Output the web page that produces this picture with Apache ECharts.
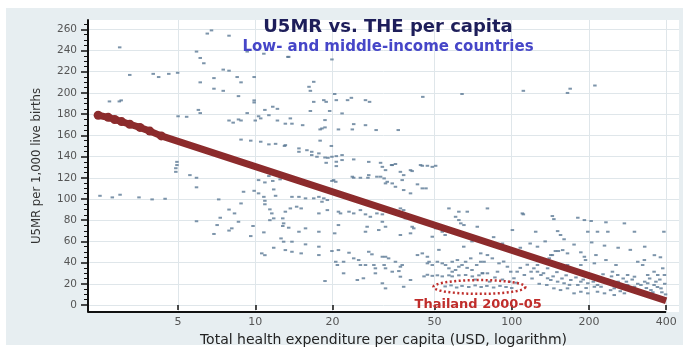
<!DOCTYPE html>
<html>
<head>
<meta charset="utf-8">
<script src="https://cdn.jsdelivr.net/npm/echarts@6/dist/echarts.min.js"></script>
<style>
  html, body { margin: 0; padding: 0; background: #fff; }
  #panel { position: absolute; left: 6px; top: 8px; width: 677px; height: 337px; background: #e7eef1; }
  #chart { position: absolute; left: 0; top: 0; width: 683px; height: 349px; }
</style>
</head>
<body>
<div id="panel"></div>
<div id="chart"></div>
<script>
// tick labels
const xTicks = [5, 10, 20, 50, 100, 200, 400]
const yTicks = [0, 20, 40, 60, 80, 100, 120, 140, 160, 180, 200, 220, 240, 260]

// countries: [THE per capita (USD), U5MR]
const countryPoints = [
  [2.96, 243], [3.24, 217], [4.0, 218], [4.2, 215], [4.6, 218], [4.98, 219], [2.7, 192], [2.95, 192], [3.0, 193],
  [5.9, 239], [6.1, 233], [6.3, 228], [6.5, 256], [6.75, 259], [7.9, 254], [9.3, 239], [10.8, 237], [13.4, 234],
  [7.5, 222], [7.9, 221], [6.9, 214], [6.1, 210], [6.9, 204], [7.5, 202], [8.5, 215], [8.8, 210], [9.9, 215],
  [8.6, 197], [9.9, 193], [9.9, 191], [6.0, 184], [6.1, 181], [5.0, 178], [5.4, 177.5], [7.9, 174], [8.2, 172],
  [8.6, 175], [8.8, 174], [9.3, 181], [10.0, 174], [10.3, 178], [10.5, 176], [10.9, 184], [11.3, 179], [11.7, 187],
  [12.2, 185], [12.2, 174], [8.8, 156], [9.6, 155], [10.5, 154], [11.3, 151.5], [12, 152], [13, 150],
  [4.95, 135], [4.95, 132], [4.9, 129],
  [2.48, 103], [2.77, 101.5], [2.97, 104], [3.52, 101.5], [3.96, 99.6], [4.45, 100.2],
  [4.9, 125.6], [5.56, 122.5], [5.9, 120], [5.9, 111], [5.9, 79], [7.2, 99.6], [7.9, 90], [8.3, 86.4], [7.3, 82.3],
  [7.1, 75.4], [6.9, 67], [7.9, 70.2], [8.1, 72.3], [8.6, 78.5], [8.8, 95.8], [9.0, 106.8], [9.6, 65], [9.8, 74.5],
  [9.9, 107.7], [10.3, 105.3], [10.8, 102], [10.9, 98.3], [10.9, 95], [11.4, 90.2], [11.6, 86.4], [11.8, 81.7],
  [11.4, 80], [12.8, 81.7], [12.9, 77], [12.8, 74.5], [10.8, 68.5], [10.6, 48.7], [10.9, 47], [11.8, 54],
  [12.6, 62.8], [12.9, 59.7], [11.8, 109], [12, 103], [12.5, 118.5], [11.7, 117], [11.3, 121.6], [10.9, 115.6], [10.3, 117.8],
  [13.5, 234], [19.9, 231.6], [16.9, 210.5], [16.2, 205.8], [16.4, 202], [20.4, 199], [16.9, 191.6], [18.5, 193.2],
  [18.9, 191.6], [20.7, 193.2], [22.9, 193.2], [23.7, 195.4], [26.9, 193.2], [27.9, 191.6], [16.4, 183], [19.5, 183],
  [21.8, 180.7], [45, 196.3], [64, 199], [13.7, 176], [13.1, 171], [13.9, 171], [15.3, 169.6], [18.7, 174.4],
  [18.2, 166.5], [18.7, 167.5], [17.9, 165.6], [21.1, 165.6], [24.2, 170.6], [23.9, 165.6], [26.9, 169.6], [29.6, 165],
  [36.1, 165], [17.9, 155], [19.8, 150], [13.1, 150.8], [14.8, 147.7], [14.8, 144.5], [15.9, 146], [16.6, 144.5],
  [16.6, 141.4], [17.4, 139.8], [17.7, 143], [18.7, 139.1], [19.2, 138.8], [18.9, 134.1], [19.9, 139.8], [20.7, 140.4],
  [20.7, 135.1], [20.7, 131], [21.8, 141.4], [21.8, 136.7], [24.2, 137.3], [27.7, 135], [30.8, 134.1], [31.3, 130.3],
  [34.2, 132], [35.2, 133], [44.8, 131.3], [46.9, 131.3], [49, 130.3], [50.5, 131.3],
  [111, 202], [165, 200], [169, 204], [211, 207],
  [20.2, 117.8], [20.6, 116.2], [19.9, 117], [24.2, 120], [25.7, 120], [27.5, 120], [30.8, 121], [32.7, 116.2],
  [32.2, 114.7], [32.2, 127.2], [37.9, 122.5], [37.4, 117.8], [40.9, 126.3], [42.9, 113.8], [44.8, 110],
  [13.9, 102], [14.8, 102], [17.7, 102], [18.5, 100.6], [19.1, 99], [18.2, 97.4], [15.7, 100.6], [16.9, 100.6],
  [14.5, 92.7], [13.7, 91.1], [13.1, 88], [15.1, 91.1], [17.7, 86.4], [19.1, 89.5], [21.1, 88], [21.5, 86.4],
  [23.2, 88], [24.2, 86.4], [25.7, 89.5], [26.9, 85.5], [28.1, 83.2], [29.8, 86.4], [31.3, 85.5], [32.2, 91.1],
  [36.8, 91.1], [37.9, 89.5], [38.5, 81.7],
  [13.5, 72.9], [14.8, 69.1], [15.7, 72.3], [17.7, 69.1], [20.4, 67.6], [21.1, 75.4], [26.9, 69.1], [27.3, 73.8],
  [31.3, 78.5], [30.3, 70.7], [32.2, 73.8], [36.8, 66], [40.3, 67.6], [41.5, 72.3], [40.9, 73.8],
  [13.9, 59.7], [15.7, 57.2], [13.1, 51.8], [13.9, 50.2], [15.1, 48.7], [17.7, 55], [17.7, 47.1], [19.9, 50.9],
  [21.1, 51.8], [20.6, 40.8], [20.9, 37.7], [22.1, 40.8], [22.1, 29.9], [23.2, 49.3], [24.2, 44], [25.3, 42.4],
  [25.7, 37.7], [26.9, 37.7], [27.7, 50.2], [28.5, 47.8], [29, 37.7], [29.4, 34.6], [29.4, 29.9], [25, 23.6],
  [26.4, 25.2], [18.7, 22.6],
  [31.3, 45.5], [32.2, 45.5], [33.1, 44], [35.2, 40.8], [31.8, 37.7], [32.2, 34.6], [34.2, 31.4], [36.3, 32],
  [36.8, 36.1], [37.4, 37.7], [31.3, 20.5], [32.2, 15.7], [37.9, 17.2], [40.3, 23.6], [36.8, 26.7],
  [42.9, 47.1], [44.8, 48.7], [46.9, 45.5], [47.6, 40.8], [49, 37.7], [46.9, 39.3],
  [51.3, 40.8], [53.6, 39.3], [55.2, 37.7], [56.9, 34.6], [58.6, 31.4], [60.4, 33], [62.2, 36.1], [64, 37.7],
  [58.6, 40.8], [61.4, 42.4],
  [45.5, 27], [46.9, 28.5], [49, 27.5], [51.3, 28], [53.6, 27], [56.9, 28], [58.6, 27], [62.2, 28], [66.1, 28.3],
  [70.2, 27], [74.5, 28], [76.9, 30],
  [66.1, 40.8], [69.2, 44], [73, 37.7], [75.7, 40.8], [60.4, 83.2], [62.2, 80.1], [63.3, 77], [65.1, 75.4],
  [67.1, 88], [73.4, 73.8], [50.5, 72.3], [53.6, 69.1], [49, 64.4], [56.9, 91.1], [46.3, 110],
  [34, 132], [36.8, 125.6], [40.3, 127.2], [44.1, 132], [23.9, 121], [27.7, 122.5], [29.8, 121], [31.8, 119.4],
  [34.2, 114.7], [35.2, 111.5], [37.9, 108.4], [40.3, 105.3], [62.2, 88], [80.4, 91.1], [110, 86.4], [144, 83.9],
  [111, 85.5], [146, 81], [181, 82.3], [192, 80.1], [204, 79.2], [233, 78], [275, 77],
  [100.6, 70.7], [124, 69.1], [151, 69.7], [155, 66], [198, 69.1], [216, 69.1], [237, 69.1], [301, 69.1], [392, 69.1],
  [108, 54], [126, 55], [148, 50.9], [152, 50.9], [165, 48.7], [186, 49.7], [192, 45.5], [144, 47.1], [140, 44],
  [75.7, 48.7], [80.4, 47.1], [78, 40.8], [76.9, 29.9], [80.4, 29.9], [88, 31.4], [89.2, 39.3], [96.2, 36.1],
  [99.1, 31.4], [105, 31.4], [102, 25.2], [112, 28.3], [119, 31.4], [122, 34.6], [126, 31.4],
  [130, 28.3], [138, 25.2], [142, 23.6], [151, 22], [160, 20.5], [170, 23.6], [181, 18.9], [186, 22], [198, 20.5],
  [210, 17.2], [216, 18.9], [223, 17.2], [237, 20.5], [251, 15.7], [267, 18.9], [283, 18.9], [301, 17.2], [319, 18.9],
  [339, 20.5], [359, 18.9], [382, 15.7], [137, 18.9], [146, 15.7], [155, 14.1], [165, 15.7], [175, 11], [186, 12.5],
  [198, 11], [216, 12.5], [230, 11], [251, 9.4], [275, 11], [301, 12.5], [329, 11], [349, 14.1],
  [310, 40.8], [324, 37.7], [329, 42.4], [371, 28.3], [394, 28.3], [388, 34.6], [359, 31.4], [339, 28.3],
  [255, 37.7], [259, 28.3], [283, 28.3], [301, 26.7], [247, 31.4], [233, 42.4], [210, 39.3], [213, 47.1], [194, 42.4],
  [186, 37.7], [165, 37.7], [151, 39.3], [142, 47.1], [158, 51.8], [138, 34.6], [126, 37.7],
  [120, 25], [128, 20], [133, 30], [145, 27], [150, 31], [157, 25], [163, 28], [168, 19], [178, 26], [183, 30],
  [190, 24], [195, 16], [205, 27], [208, 22], [220, 25], [227, 29], [235, 24], [243, 14], [245, 27], [260, 22],
  [265, 13], [272, 25], [280, 22], [290, 15], [295, 24], [310, 20], [315, 14], [330, 22], [335, 16], [345, 25],
  [355, 12], [365, 22], [370, 17], [378, 24], [385, 12], [395, 20], [398, 10],
  [82, 22], [86, 26], [92, 24], [98, 22], [104, 21], [108, 35], [115, 38], [70, 33], [84, 44], [93, 41], [67, 35], [72, 24],
  [118, 58], [135, 60], [160, 62], [175, 57], [205, 59], [230, 56], [260, 54], [290, 52], [330, 55], [360, 47], [380, 45],
  [55, 66], [58, 70], [70, 60], [85, 64], [92, 58], [65, 55], [52, 52]
]

// Thailand 2000-05 (inside the dotted ellipse)
const thailandPoints = [
  [55, 17.5], [58, 18.5], [61, 16.5], [64, 18], [68, 17], [72, 18.5], [76, 17], [80, 18], [85, 16.5], [90, 18], [95, 17], [100, 16]
]

// fitted values (log-linear)
const fitX = [2.44, 2.67, 2.83, 3.01, 3.24, 3.55, 3.88, 4.3, 400]
const fitY = [179, 177, 175, 173, 170.5, 167.5, 164, 159.5, 4]

// annotation: [xFrom, xTo, yFrom, yTo]
const thailandBox = [49.5, 113, 10.5, 23.5]
const thailandLabel = { text: 'Thailand 2000-05', x: 74, y: 0 }

const xMin = 2.227, xMax = 449
const yMin = -6.6, yMax = 268.8

// minor ticks between the labelled ones
const yMinorTicks = []
yTicks.forEach(v => { [5, 10, 15].forEach(d => { if (v + d < yMax) yMinorTicks.push(v + d) }) })

const axisColor = '#111'
const gridColor = '#dfe6ea'
const fitColor = '#8c2b2c'

let myChart = echarts.init(document.getElementById('chart'))
let option = {
  animation: false,
  title: [
    {
      text: 'U5MR vs. THE per capita',
      left: 383, top: 13, textAlign: 'center',
      textStyle: { fontFamily: 'DejaVu Sans', fontWeight: 'bold', fontSize: 18, color: '#1e1e5a' }
    },
    {
      text: 'Low- and middle-income countries',
      left: 383, top: 35, textAlign: 'center',
      textStyle: { fontFamily: 'DejaVu Sans', fontWeight: 'bold', fontSize: 15, color: '#4646c8' }
    }
  ],
  grid: {
    left: 88, right: 4, top: 20, bottom: 37,
    outerBoundsMode: 'none',
    show: true, backgroundColor: '#fff', borderWidth: 0
  },
  xAxis: {
    type: 'log', logBase: 10, min: xMin, max: xMax,
    name: 'Total health expenditure per capita (USD, logarithm)',
    nameLocation: 'middle', nameGap: 18,
    nameTextStyle: { fontFamily: 'DejaVu Sans', fontSize: 14, color: '#222' },
    axisLine: { show: false },
    axisTick: { show: true, length: 5, customValues: xTicks, lineStyle: { color: axisColor, width: 1.5 } },
    axisLabel: { customValues: xTicks, margin: 5, fontFamily: 'DejaVu Sans', fontSize: 11, color: '#555' },
    splitLine: { show: true, lineStyle: { color: gridColor, width: 1 } }
  },
  yAxis: [
    {
      type: 'value', min: yMin, max: yMax,
      name: 'U5MR per 1,000 live births',
      nameLocation: 'middle', nameGap: 45,
      nameTextStyle: { fontFamily: 'Liberation Sans Narrow, DejaVu Sans Condensed, sans-serif', fontSize: 13, color: '#333' },
      axisLine: { show: true, lineStyle: { color: axisColor, width: 2 } },
      axisTick: { show: true, length: 7, customValues: yTicks, lineStyle: { color: axisColor, width: 1.5 } },
      axisLabel: { customValues: yTicks, margin: 11, fontFamily: 'DejaVu Sans', fontSize: 10.5, color: '#555' },
      splitLine: { show: true, lineStyle: { color: gridColor, width: 1 } }
    },
    {
      type: 'value', min: yMin, max: yMax, position: 'left',
      axisLine: { show: false },
      axisTick: { show: true, length: 4, customValues: yMinorTicks, lineStyle: { color: axisColor, width: 1 } },
      axisLabel: { show: false },
      splitLine: { show: false }
    }
  ],
  series: [
    {
      name: 'countries',
      type: 'scatter',
      data: countryPoints.concat(thailandPoints),
      symbol: 'rect',
      symbolSize: [3.5, 2],
      itemStyle: { color: '#5b7995' },
      z: 2,
      markLine: {
        silent: true, symbol: 'none', label: { show: false },
        lineStyle: { color: axisColor, width: 2, type: 'solid' },
        data: [[{ coord: [xMin, yMin] }, { coord: [400, yMin] }]]
      }
    },
    {
      name: 'fit',
      type: 'line',
      data: fitX.map((x, i) => [x, fitY[i]]),
      symbol: 'circle',
      // dots only where the fitted points are spread out (left end)
      symbolSize: (v, p) => p.dataIndex < fitX.length - 1 ? 9 : 0,
      showSymbol: true,
      lineStyle: { color: fitColor, width: 7 },
      itemStyle: { color: fitColor },
      z: 3
    },
    {
      name: 'thailand',
      type: 'custom',
      data: [thailandBox],
      encode: { x: [0, 1], y: [2, 3] },
      z: 4,
      renderItem: function (params, api) {
        let p1 = api.coord([api.value(0), api.value(2)])
        let p2 = api.coord([api.value(1), api.value(3)])
        let cx = (p1[0] + p2[0]) / 2
        let cy = (p1[1] + p2[1]) / 2
        let rx = Math.abs(p2[0] - p1[0]) / 2
        let ry = Math.abs(p1[1] - p2[1]) / 2
        let pts = []
        for (let i = 0; i < 72; i++) {
          let a = i / 72 * Math.PI * 2
          pts.push([cx + rx * Math.cos(a), cy + ry * Math.sin(a)])
        }
        let lp = api.coord([thailandLabel.x, thailandLabel.y])
        return {
          type: 'group',
          children: [
            {
              type: 'polygon',
              shape: { points: pts },
              style: { fill: 'none', stroke: '#bf2f2c', lineWidth: 2.5, lineDash: [2, 2.5] }
            },
            {
              type: 'text',
              x: lp[0], y: lp[1],
              style: {
                text: thailandLabel.text, fill: '#c02d2b',
                font: 'bold 13px "DejaVu Sans"', align: 'center', verticalAlign: 'middle'
              }
            }
          ]
        }
      }
    }
  ]
}
myChart.setOption(option)
</script>
</body>
</html>
